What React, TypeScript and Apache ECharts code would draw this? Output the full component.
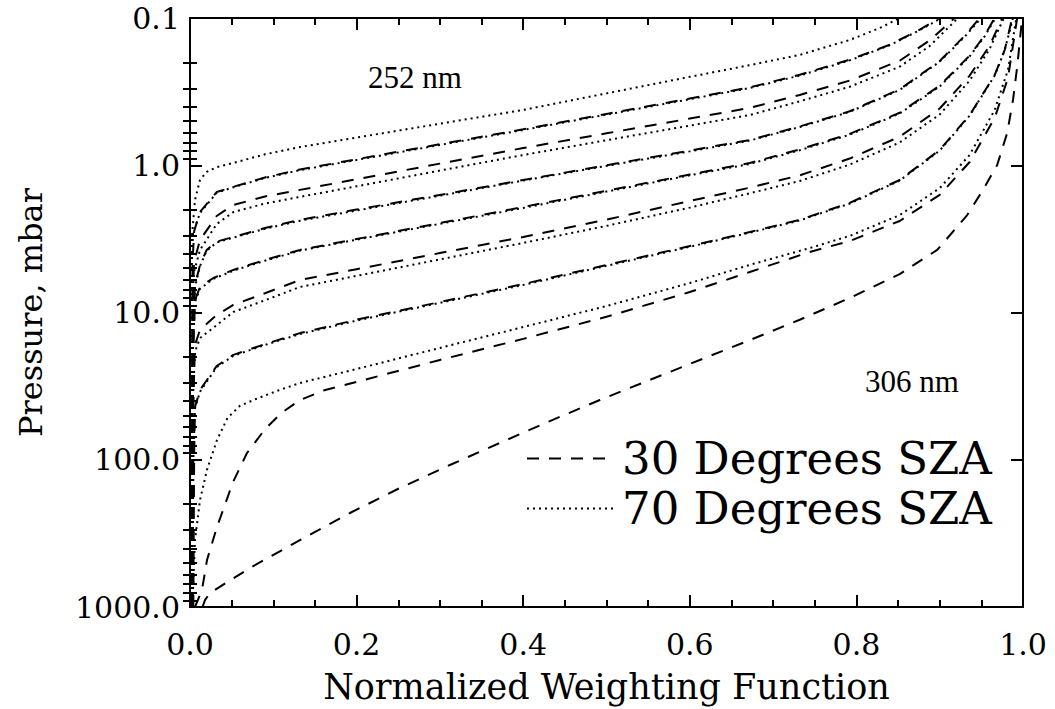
import React, { useEffect, useRef } from 'react';
import * as echarts from 'echarts';

// ---- data: [normalized weighting function, pressure (mbar)] ----
const sza70_252 = [[0.001,1000],[0.002,3.2],[0.006,1.72],[0.012,1.26],[0.02,1.11],[0.032,1.03],[0.052,0.965],[0.09,0.843],[0.132,0.752],[0.2,0.649],[0.3,0.522],[0.4,0.421],[0.5,0.325],[0.6,0.251],[0.672,0.209],[0.732,0.178],[0.792,0.141],[0.828,0.117],[0.852,0.1]];
const sza30_252 = [[0.002,1000],[0.003,4.6],[0.005,2.8],[0.012,2.08],[0.032,1.52],[0.052,1.4],[0.09,1.21],[0.132,1.07],[0.2,0.91],[0.3,0.72],[0.4,0.57],[0.5,0.448],[0.6,0.352],[0.672,0.296],[0.732,0.243],[0.792,0.192],[0.84,0.152],[0.876,0.12],[0.9,0.1]];
const sza70_273 = [[0.001,1000],[0.002,5.0],[0.0036,2.89],[0.012,2.11],[0.032,1.54],[0.052,1.41],[0.09,1.22],[0.132,1.08],[0.2,0.92],[0.3,0.728],[0.4,0.576],[0.5,0.453],[0.6,0.356],[0.672,0.299],[0.732,0.246],[0.792,0.194],[0.84,0.153],[0.876,0.121],[0.902,0.1]];
const sza30_273 = [[0.002,1000],[0.003,9.0],[0.0048,4.54],[0.012,3.22],[0.032,2.21],[0.052,1.86],[0.09,1.63],[0.132,1.47],[0.2,1.245],[0.3,0.975],[0.4,0.764],[0.5,0.607],[0.6,0.482],[0.672,0.408],[0.732,0.333],[0.792,0.266],[0.852,0.195],[0.888,0.142],[0.918,0.1]];
const sza70_283 = [[0.001,1000],[0.002,10.5],[0.0048,5.31],[0.012,3.76],[0.032,2.51],[0.052,2.08],[0.09,1.82],[0.132,1.64],[0.2,1.39],[0.3,1.087],[0.4,0.852],[0.5,0.676],[0.6,0.538],[0.672,0.456],[0.732,0.368],[0.792,0.293],[0.852,0.214],[0.888,0.155],[0.922,0.1]];
const sza30_283 = [[0.003,1000],[0.004,12.5],[0.006,6.51],[0.012,4.76],[0.02,3.76],[0.032,3.3],[0.052,3.07],[0.09,2.67],[0.132,2.35],[0.2,2.0],[0.3,1.59],[0.4,1.26],[0.5,1.0],[0.6,0.795],[0.672,0.674],[0.732,0.545],[0.792,0.43],[0.852,0.305],[0.9,0.196],[0.93,0.132],[0.948,0.1]];
const sza70_288 = [[0.002,1000],[0.003,14],[0.006,6.7],[0.012,4.85],[0.02,3.8],[0.032,3.35],[0.052,3.1],[0.09,2.7],[0.132,2.38],[0.2,2.03],[0.3,1.61],[0.4,1.27],[0.5,1.01],[0.6,0.805],[0.672,0.68],[0.732,0.55],[0.792,0.434],[0.852,0.308],[0.9,0.198],[0.93,0.134],[0.95,0.1]];
const sza30_288 = [[0.003,1000],[0.004,18],[0.006,8.22],[0.012,6.71],[0.028,5.83],[0.052,5.14],[0.09,4.4],[0.132,3.76],[0.2,3.17],[0.3,2.47],[0.4,1.92],[0.5,1.49],[0.6,1.157],[0.672,0.965],[0.732,0.78],[0.792,0.612],[0.852,0.44],[0.9,0.288],[0.936,0.18],[0.954,0.131],[0.966,0.1]];
const sza70_292 = [[0.002,1000],[0.003,20],[0.006,8.5],[0.012,6.9],[0.028,5.9],[0.052,5.2],[0.09,4.45],[0.132,3.8],[0.2,3.2],[0.3,2.5],[0.4,1.95],[0.5,1.51],[0.6,1.17],[0.672,0.98],[0.732,0.79],[0.792,0.62],[0.852,0.445],[0.9,0.292],[0.936,0.182],[0.954,0.133],[0.967,0.1]];
const sza30_292 = [[0.003,1000],[0.004,40],[0.006,16.6],[0.012,13.1],[0.032,10.4],[0.052,8.89],[0.09,7.4],[0.132,6.02],[0.2,5.08],[0.3,3.95],[0.4,3.07],[0.5,2.34],[0.6,1.75],[0.672,1.42],[0.732,1.17],[0.792,0.9],[0.852,0.64],[0.9,0.412],[0.936,0.246],[0.96,0.154],[0.975,0.1]];
const sza70_298 = [[0.002,1000],[0.003,45],[0.006,18.5],[0.012,14.9],[0.032,12.2],[0.052,9.92],[0.09,8.26],[0.132,6.71],[0.2,5.64],[0.3,4.36],[0.4,3.37],[0.5,2.58],[0.6,1.94],[0.672,1.55],[0.732,1.28],[0.792,0.99],[0.852,0.7],[0.9,0.452],[0.936,0.266],[0.96,0.162],[0.977,0.1]];
const sza30_298 = [[0.004,1000],[0.005,90],[0.006,43.8],[0.012,33.6],[0.032,23.1],[0.052,19.4],[0.09,16.4],[0.132,13.8],[0.2,11.2],[0.3,8.49],[0.4,6.41],[0.5,4.76],[0.6,3.54],[0.672,2.84],[0.732,2.35],[0.792,1.8],[0.852,1.26],[0.9,0.787],[0.936,0.456],[0.966,0.244],[0.978,0.165],[0.987,0.1]];
const sza70_302 = [[0.003,1000],[0.004,100],[0.006,45],[0.012,34.5],[0.032,23.5],[0.052,19.7],[0.09,16.6],[0.132,14.0],[0.2,11.35],[0.3,8.6],[0.4,6.5],[0.5,4.82],[0.6,3.58],[0.672,2.87],[0.732,2.37],[0.792,1.82],[0.852,1.27],[0.9,0.795],[0.936,0.46],[0.966,0.246],[0.978,0.166],[0.988,0.1]];
const sza70_306 = [[0.0024,1000],[0.0036,767],[0.006,351],[0.012,188],[0.0204,117],[0.0324,73.4],[0.045,52],[0.06,43],[0.08,38.5],[0.105,34],[0.132,30.1],[0.2,24.2],[0.3,17.4],[0.4,12.55],[0.5,9.04],[0.6,6.31],[0.672,4.75],[0.744,3.65],[0.792,3.02],[0.852,2.18],[0.9,1.43],[0.936,0.851],[0.966,0.421],[0.982,0.225],[0.992,0.1]];
const sza30_302 = [[0.006,1000],[0.0144,767],[0.0204,480],[0.0324,286],[0.0516,142],[0.0684,90],[0.09,62],[0.11,48],[0.132,39.3],[0.16,33.9],[0.2,29.6],[0.3,21.0],[0.4,15.1],[0.5,10.7],[0.6,7.26],[0.672,5.31],[0.744,3.88],[0.792,3.27],[0.852,2.39],[0.9,1.59],[0.936,0.951],[0.966,0.477],[0.982,0.255],[0.993,0.1]];
const sza30_306 = [[0.015,1000],[0.018,897],[0.024,803],[0.072,543],[0.132,351],[0.192,230],[0.252,155.5],[0.312,108.6],[0.372,76.9],[0.432,54.6],[0.492,39.3],[0.552,28.7],[0.612,21.0],[0.672,15.4],[0.732,11.2],[0.792,7.97],[0.852,5.48],[0.897,3.76],[0.933,2.18],[0.952,1.47],[0.969,0.996],[0.981,0.604],[0.988,0.36],[0.993,0.215],[0.999,0.1]];

const curves30 = [sza30_252, sza30_273, sza30_283, sza30_288, sza30_292, sza30_298, sza30_302, sza30_306];
const curves70 = [sza70_252, sza70_273, sza70_283, sza70_288, sza70_292, sza70_298, sza70_302, sza70_306];

const legendNames = ['30 Degrees SZA', '70 Degrees SZA'];
const pressureMinorTicks = [0.2,0.3,0.4,0.5,0.6,0.7,0.8,0.9,2,3,4,5,6,7,8,9,20,30,40,50,60,70,80,90,200,300,400,500,600,700,800,900];
const wavelengthLabels = ['252 nm', '306 nm'];

const FONT = '"DejaVu Serif", serif';
const BLACK = '#000';

export default function App() {
  const ref = useRef<HTMLDivElement>(null);
  useEffect(() => {
    if (!ref.current) return;
    const chart = echarts.init(ref.current, null, { renderer: 'svg' });
    const lineCommon = {
      type: 'line',
      symbol: 'none',
      showSymbol: false,
      smooth: false,
      silent: true,
      xAxisIndex: 0,
      yAxisIndex: 0,
      itemStyle: { color: BLACK },
    };
    const series: any[] = [];
    curves30.forEach((d) => series.push({ ...lineCommon, name: legendNames[0], data: d, lineStyle: { color: BLACK, width: 2, type: [12, 10] } }));
    curves70.forEach((d) => series.push({ ...lineCommon, name: legendNames[1], data: d, lineStyle: { color: BLACK, width: 2, type: [2, 4] } }));

    const axisLine = { show: true, onZero: false, lineStyle: { color: BLACK, width: 2 } };
    const majorTick = { show: true, inside: true, length: 12, lineStyle: { color: BLACK, width: 2 } };
    const minorTickX = { show: true, splitNumber: 4, length: 7, lineStyle: { color: BLACK, width: 2 } };
    const yBase = { type: 'log', logBase: 10, min: 0.1, max: 1000, inverse: true, splitLine: { show: false } };

    chart.setOption({
      animation: false,
      backgroundColor: '#fff',
      grid: { left: 190, right: 32, top: 18, bottom: 102, containLabel: false },
      legend: {
        data: legendNames,
        orient: 'vertical',
        left: 521,
        top: 431,
        itemWidth: 88,
        itemHeight: 14,
        itemGap: 5,
        selectedMode: false,
        itemStyle: { opacity: 0 },
        textStyle: { color: BLACK, fontFamily: FONT, fontSize: 45, padding: [0, 0, 0, 2] },
      },
      xAxis: [
        {
          type: 'value', position: 'bottom', min: 0, max: 1, interval: 0.2,
          axisLine, axisTick: majorTick, minorTick: minorTickX,
          splitLine: { show: false }, minorSplitLine: { show: false },
          axisLabel: { show: true, margin: 22, color: BLACK, fontFamily: FONT, fontSize: 30, showMinLabel: true, showMaxLabel: true, formatter: (v: number) => v.toFixed(1) },
          name: 'Normalized Weighting Function', nameLocation: 'middle', nameGap: 62,
          nameTextStyle: { color: BLACK, fontFamily: FONT, fontSize: 35 },
        },
        {
          type: 'value', position: 'top', min: 0, max: 1, interval: 0.2,
          axisLine, axisTick: majorTick, minorTick: minorTickX,
          splitLine: { show: false }, minorSplitLine: { show: false },
          axisLabel: { show: false },
        },
      ],
      yAxis: [
        {
          ...yBase, position: 'left',
          axisLine, axisTick: majorTick,
          axisLabel: { show: true, margin: 10, color: BLACK, fontFamily: FONT, fontSize: 30, showMinLabel: true, showMaxLabel: true, formatter: (v: number) => Number(v).toFixed(1) },
          name: 'Pressure, mbar', nameLocation: 'middle', nameGap: 143, nameRotate: 90,
          nameTextStyle: { color: BLACK, fontFamily: FONT, fontSize: 32 },
        },
        {
          ...yBase, position: 'left',
          axisLine: { show: false },
          axisTick: { show: true, inside: true, length: 7, customValues: pressureMinorTicks, lineStyle: { color: BLACK, width: 2 } },
          axisLabel: { show: false },
        },
        {
          ...yBase, position: 'right',
          axisLine, axisTick: majorTick,
          axisLabel: { show: false },
        },
        {
          ...yBase, position: 'right',
          axisLine: { show: false },
          axisTick: { show: true, inside: true, length: 7, customValues: pressureMinorTicks, lineStyle: { color: BLACK, width: 2 } },
          axisLabel: { show: false },
        },
      ],
      graphic: [
        { type: 'text', x: 368, y: 77, style: { text: wavelengthLabels[0], font: '31px "Liberation Serif", serif', fill: BLACK, verticalAlign: 'middle', align: 'left' } },
        { type: 'text', x: 865, y: 381, style: { text: wavelengthLabels[1], font: '31px "Liberation Serif", serif', fill: BLACK, verticalAlign: 'middle', align: 'left' } },
      ],
      series,
    });
    return () => chart.dispose();
  }, []);
  return <div ref={ref} style={{ position: 'absolute', left: 0, top: 0, width: 1055, height: 709 }} />;
}
